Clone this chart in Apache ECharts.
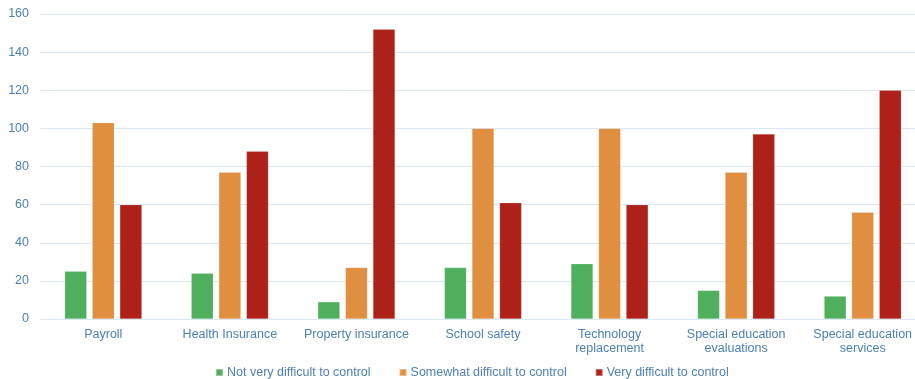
<!DOCTYPE html>
<html>
<head>
<meta charset="utf-8">
<script src="https://cdn.jsdelivr.net/npm/echarts@6/dist/echarts.min.js"></script>
<style>
  html, body { margin: 0; padding: 0; background: #ffffff; }
  #chart { width: 915px; height: 379px; }
</style>
</head>
<body>
<div id="chart"></div>
<script>
// Cost categories and how difficult each is to control (number of responses)
const categories = [
  'Payroll',
  'Health Insurance',
  'Property insurance',
  'School safety',
  'Technology\nreplacement',
  'Special education\nevaluations',
  'Special education\nservices'
];
const seriesNames = [
  'Not very difficult to control',
  'Somewhat difficult to control',
  'Very difficult to control'
];
const notVeryDifficult = [25, 24, 9, 27, 29, 15, 12];
const somewhatDifficult = [103, 77, 27, 100, 100, 77, 56];
const veryDifficult = [60, 88, 152, 61, 60, 97, 120];
const seriesColors = ['#4faf5d', '#e08e3f', '#ad2118'];

const textColor = '#4d80b6';
const font = 'Liberation Sans, Arial, sans-serif';

const chart = echarts.init(document.getElementById('chart'), null, { renderer: 'canvas' });

const values = [notVeryDifficult, somewhatDifficult, veryDifficult];

chart.setOption({
  animation: false,
  // plot area runs slightly past the right edge of the canvas
  grid: {
    left: 40, width: 886, top: 14, bottom: 60,
    containLabel: false,
    outerBoundsMode: 'none'
  },
  legend: {
    top: 361,
    left: 210,
    itemWidth: 7,
    itemHeight: 7,
    itemGap: 28,
    icon: 'rect',
    textStyle: { color: textColor, fontSize: 12.5, fontFamily: font, padding: [0, 0, 0, -1] },
    data: seriesNames
  },
  xAxis: {
    type: 'category',
    data: categories,
    axisLine: { show: true, lineStyle: { color: '#d9e8f2', width: 1 } },
    axisTick: { show: false },
    axisLabel: {
      color: textColor,
      fontSize: 12.5,
      fontFamily: font,
      margin: 9,
      lineHeight: 14,
      interval: 0
    }
  },
  yAxis: {
    type: 'value',
    min: 0,
    max: 160,
    interval: 20,
    axisLine: { show: false },
    axisTick: { show: false },
    splitLine: { lineStyle: { color: '#d9e8f2', width: 1 } },
    axisLabel: { color: textColor, fontSize: 12.5, fontFamily: font, margin: 11 }
  },
  series: seriesNames.map((name, i) => ({
    name: name,
    type: 'bar',
    data: values[i],
    barGap: '25%',
    barCategoryGap: '39%',
    itemStyle: {
      color: seriesColors[i],
      borderColor: 'rgba(255,255,255,0.35)',
      borderWidth: 0.5
    }
  }))
});
</script>
</body>
</html>
